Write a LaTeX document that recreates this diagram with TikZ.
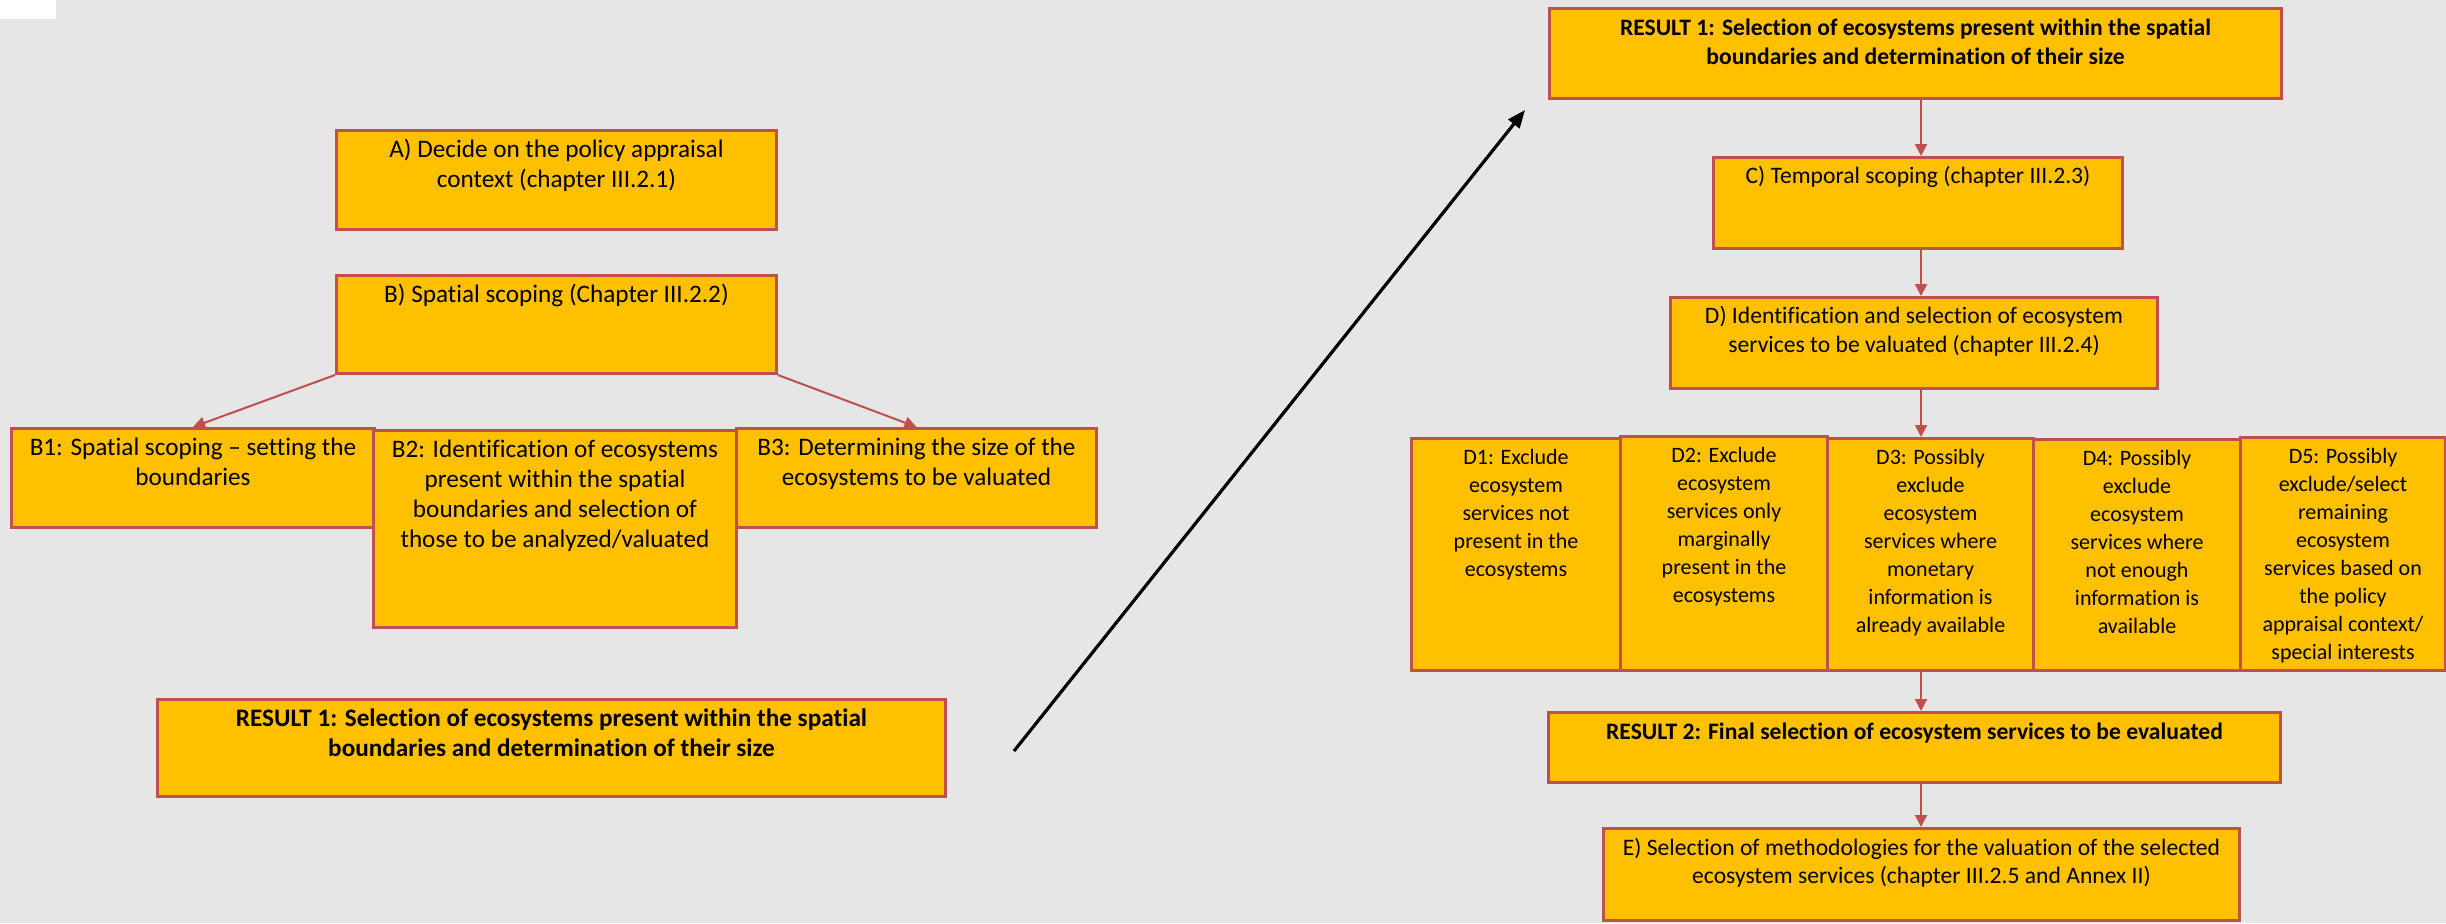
\documentclass[tikz,border=0pt]{standalone}
\usepackage{fontspec}
\setmainfont{Carlito}[Ligatures=NoCommon]
\usetikzlibrary{arrows.meta}
\definecolor{bgray}{HTML}{E6E6E6}
\definecolor{gold}{HTML}{FFC000}
\definecolor{bred}{HTML}{C0504D}
\newcommand\mkbox[5]{\node[box, minimum width={(#4-#2)*0.5pt}, minimum height={(#5-#3)*0.5pt}] (#1) at (#2,#3) {};}
\newcommand\T{\rule{0pt}{9.5pt}}
\begin{document}
\begin{tikzpicture}[x=0.5pt,y=-0.5pt,
  box/.style={draw=bred, fill=gold, line width=1.5pt, inner sep=0pt, anchor=north west},
  txt/.style={anchor=north, align=center, inner sep=0pt, font=\fontsize{12.6}{15}\selectfont},
  btxt/.style={txt, font=\bfseries\fontsize{12.6}{15}\selectfont},
  rtxt/.style={txt, font=\fontsize{11.8}{14.5}\selectfont},
  rbtxt/.style={txt, font=\bfseries\fontsize{11.8}{14.5}\selectfont},
  etxt/.style={txt, font=\fontsize{11.8}{14}\selectfont},
  dtxt/.style={txt, font=\fontsize{11}{14}\selectfont},
  link/.style={draw=bred, line width=1pt, -{Triangle[length=6pt,width=6pt]}},
  bigarrow/.style={draw=black, line width=1.6pt, -{Triangle[length=9pt,width=7pt]}}
]
\useasboundingbox (0,0) rectangle (2446,923);
\fill[bgray] (0,0) rectangle (2446,923);
\fill[white] (0,0) rectangle (56,19);

% left part
\mkbox{A}{335}{129}{775}{228}
\mkbox{B}{335}{274}{775}{372}
\mkbox{B1}{10}{427}{373}{526}
\mkbox{B3}{735}{427}{1095}{526}
\mkbox{B2}{372}{429}{735}{626}
\mkbox{R1L}{156}{698}{944}{795}

\node[txt] (At) at ([yshift=-4.7pt]A.north) {\T A) Decide on the policy appraisal\\context (chapter III.2.1)};
\node[txt] (Bt) at ([yshift=-4.7pt]B.north) {\T B) Spatial scoping (Chapter III.2.2)};
\node[txt] (B1t) at ([yshift=-4.7pt]B1.north) {\T B1: Spatial scoping – setting the\\boundaries};
\node[txt] (B2t) at ([yshift=-4.7pt]B2.north) {\T B2: Identification of ecosystems\\present within the spatial\\boundaries and selection of\\those to be analyzed/valuated};
\node[txt] (B3t) at ([yshift=-4.7pt]B3.north) {\T B3: Determining the size of the\\ecosystems to be valuated};
\node[btxt] (R1Lt) at ([yshift=-4.7pt]R1L.north) {\T RESULT 1: Selection of ecosystems present within the spatial\\boundaries and determination of their size};

\draw[link] (B.south west) -- (B1.north);
\draw[link] (B.south east) -- (B3.north);

% big arrow
\coordinate (s) at (1014,751);
\coordinate (e) at (1525,110);
\draw[bigarrow] (s) -- (e);

% right part
\mkbox{R1R}{1548}{7}{2280}{97}
\mkbox{C}{1712}{156}{2121}{247}
\mkbox{D}{1669}{296}{2156}{387}
\mkbox{D1}{1410}{437}{1619}{669}
\mkbox{D2}{1619}{435}{1826}{669}
\mkbox{D3}{1826}{437}{2032}{669}
\mkbox{D4}{2032}{438}{2239}{669}
\mkbox{D5}{2239}{436}{2444}{669}
\mkbox{R2}{1547}{711}{2279}{781}
\mkbox{E}{1602}{827}{2238}{919}

\node[rbtxt] (R1Rt) at ([yshift=-4.5pt]R1R.north) {\T RESULT 1: Selection of ecosystems present within the spatial\\boundaries and determination of their size};
\node[rtxt] (Ct) at ([yshift=-4.2pt]C.north) {\T C) Temporal scoping (chapter III.2.3)};
\node[rtxt] (Dt) at ([yshift=-4.2pt]D.north) {\T D) Identification and selection of ecosystem\\services to be valuated (chapter III.2.4)};
\node[dtxt] (D1t) at ([yshift=-3.8pt]D1.north) {\T D1: Exclude\\ecosystem\\services not\\present in the\\ecosystems};
\node[dtxt] (D2t) at ([yshift=-3.8pt]D2.north) {\T D2: Exclude\\ecosystem\\services only\\marginally\\present in the\\ecosystems};
\node[dtxt] (D3t) at ([yshift=-3.8pt]D3.north) {\T D3: Possibly\\exclude\\ecosystem\\services where\\monetary\\information is\\already available};
\node[dtxt] (D4t) at ([yshift=-3.8pt]D4.north) {\T D4: Possibly\\exclude\\ecosystem\\services where\\not enough\\information is\\available};
\node[dtxt] (D5t) at ([yshift=-3.8pt]D5.north) {\T D5: Possibly\\exclude/select\\remaining\\ecosystem\\services based on\\the policy\\appraisal context/\\special interests};
\node[rbtxt] (R2t) at ([yshift=-4.5pt]R2.north) {\T RESULT 2: Final selection of ecosystem services to be evaluated};
\node[etxt] (Et) at ([yshift=-4.5pt]E.north) {\T E) Selection of methodologies for the valuation of the selected\\ecosystem services (chapter III.2.5 and Annex II)};

\coordinate (col) at (1921,0);
\draw[link] (R1R.south -| col) -- (C.north -| col);
\draw[link] (C.south -| col) -- (D.north -| col);
\draw[link] (D.south -| col) -- (D3.north -| col);
\draw[link] (D3.south -| col) -- (R2.north -| col);
\draw[link] (R2.south -| col) -- (E.north -| col);
\end{tikzpicture}
\end{document}
